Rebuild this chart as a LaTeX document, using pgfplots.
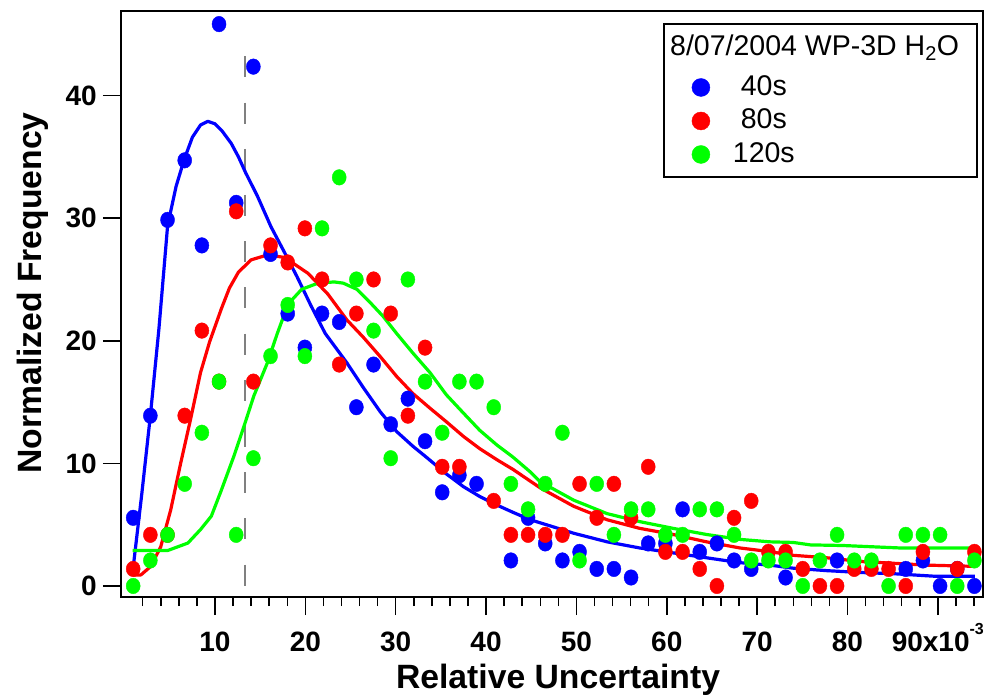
\documentclass[border=0pt]{standalone}
\usepackage{fontspec}
\setmainfont{Liberation Sans}
\usepackage{pgfplots}
\pgfplotsset{compat=1.18}
\newcommand\tickfont{\fontsize{28}{30}\selectfont\bfseries}
\newcommand\labfont{\fontsize{33.7}{36}\selectfont\bfseries}
\newcommand\legfont{\fontsize{28.5}{30}\selectfont}
\pgfplotsset{
  pts/.style={only marks, mark=*, mark size=7.8pt, mark options={xscale=0.9},
    legend image code/.code={\draw[##1, mark options={}, mark size=9pt] plot coordinates {(0pt,0pt)};}},
  fit/.style={no marks, line width=3.2pt, forget plot, line join=round},
}
\begin{document}
\begin{tikzpicture}[x=1pt,y=1pt]
\useasboundingbox (0,0) rectangle (985,694);
\begin{axis}[
  at={(121pt,97pt)}, anchor=south west,
  scale only axis, width=862pt, height=586pt,
  xmin=-0.4, xmax=95, ymin=-0.9, ymax=46.9,
  axis line style={line width=1.6pt},
  tick align=outside, tick pos=left,
  major tick length=18pt, minor tick length=9pt,
  major tick style={line width=1.5pt, black},
  minor tick style={line width=1.5pt, black},
  xtick={10,20,30,40,50,60,70,80,90},
  xticklabels={10,20,30,40,50,60,70,80,{90x10\raisebox{17pt}{\fontsize{16}{16}\selectfont\bfseries -3}}},
  minor xtick={2,4,6,8,12,14,16,18,22,24,26,28,32,34,36,38,42,44,46,48,52,54,56,58,62,64,66,68,72,74,76,78,82,84,86,88,92,94},
  ytick={0,10,20,30,40},
  yticklabels={0,10,20,30,40},
  xticklabel style={font=\tickfont, inner sep=0pt, anchor=base, yshift=-36pt},
  yticklabel style={font=\tickfont, inner sep=0pt, anchor=east, xshift=-6pt},
  xlabel={Relative Uncertainty},
  ylabel={Normalized Frequency},
  xlabel style={at={(axis description cs:0.507,-0.1553)}, anchor=base, font=\labfont, inner sep=0pt},
  ylabel style={at={(axis description cs:-0.0928,0.5188)}, anchor=base, font=\labfont, inner sep=0pt},
  legend style={draw=none, fill=none, inner sep=0pt, row sep=0pt, column sep=23pt,
    at={(axis description cs:0.6621,0.8984)}, anchor=north west, font=\legfont,
    nodes={inner sep=0pt, text height=24.45pt, text depth=9.05pt}},
  legend cell align=center,
]
% dashed marker line
\addplot[gray, line width=2pt, dash pattern=on 21pt off 25.2pt, forget plot] coordinates {(13.35,43.2) (13.35,0)};
% fitted curves
\addplot[fit, blue] coordinates {
(0.9,1.2) (1.9,7.5) (2.85,13.9) (3.8,21.0) (4.76,29.4) (5.7,32.6) (6.6,34.8) (7.5,36.6) (8.4,37.6) (9.2,37.9)
(10.0,37.7) (10.8,37.1) (11.8,36.1) (12.6,35.0) (13.4,33.7) (14.7,31.8) (16.2,29.3) (17.7,27.2) (19.1,25.2)
(20.6,22.9) (22.2,20.6) (23.6,19.2) (24.6,18.2) (26.4,16.2) (28.3,14.2) (30.1,12.6) (31.9,11.4) (33.4,10.5)
(35.5,9.2) (37.5,8.1) (39.3,7.3) (41.2,6.6) (43.0,6.0) (44.9,5.4) (47.1,4.9) (49.7,4.3) (53.4,3.6) (57.0,3.1)
(60.7,2.7) (64.4,2.3) (68.1,1.9) (71.4,1.7) (74.0,1.45) (77.7,1.25) (81.4,1.1) (85.1,1.0) (89.5,0.8) (94.1,0.8)};
\addplot[fit, red] coordinates {
(0.9,0.9) (1.8,0.9) (2.9,1.6) (4.0,3.2) (5.1,6.2) (6.2,10.0) (7.3,13.6) (8.4,17.4) (9.4,19.9) (10.7,22.6)
(11.6,24.3) (12.6,25.6) (14.0,26.6) (15.8,27.0) (17.7,26.8) (20.3,25.5) (22.5,23.8) (24.6,21.7) (26.4,20.3) (28.3,18.7)
(30.1,17.1) (31.9,15.7) (33.8,14.5) (35.6,13.4) (37.5,12.2) (39.3,11.2) (41.2,10.3) (43.0,9.5) (46.0,8.0)
(49.7,6.5) (53.4,5.4) (57.0,4.7) (60.7,4.2) (64.4,3.6) (68.1,3.1) (71.4,2.8) (74.0,2.5) (77.7,2.3) (81.4,2.0)
(85.1,1.85) (88.8,1.7) (94.1,1.6)};
\addplot[fit, green] coordinates {
(0.9,2.9) (4.8,2.9) (7.0,3.5) (8.4,4.6) (9.6,5.7) (10.7,7.8) (12.1,10.6) (13.2,13.0) (14.3,15.5) (15.8,18.2)
(16.9,20.6) (17.7,22.2) (18.6,23.4) (19.6,24.2) (21.4,24.7) (23.2,24.8) (24.2,24.7) (25.7,24.2) (27.2,23.1) (28.6,22.0)
(30.1,20.6) (31.9,19.0) (33.8,17.4) (35.6,15.6) (37.5,14.1) (39.3,12.7) (41.2,11.5) (43.0,10.5) (44.9,9.3)
(46.0,8.5) (49.7,7.0) (53.4,5.9) (57.0,5.25) (60.7,4.7) (64.4,4.2) (68.1,3.8) (71.4,3.6) (74.0,3.55)
(75.9,3.35) (79.5,3.3) (85.8,3.1) (94.1,3.1)};
% data points
\addplot[pts, blue] coordinates {
(0.95,5.56) (2.85,13.89) (4.75,29.86) (6.65,34.72) (8.55,27.78) (10.45,45.83) (12.35,31.25) (14.25,42.36)
(16.15,27.08) (18.05,22.22) (19.95,19.44) (21.85,22.22) (23.75,21.53) (25.65,14.58) (27.55,18.06)
(29.45,13.19) (31.35,15.28) (33.25,11.81) (35.15,7.64) (37.05,9.03) (38.95,8.33) (42.75,2.08) (44.65,5.56)
(46.55,3.47) (48.45,2.08) (50.35,2.78) (52.25,1.39) (54.15,1.39) (56.05,0.69) (57.95,3.47) (59.85,3.47)
(61.75,6.25) (63.65,2.78) (65.55,3.47) (67.45,2.08) (69.35,1.39) (73.15,0.69) (78.85,2.08) (86.45,1.39)
(88.35,2.08) (90.25,0) (92.15,1.39) (94.05,0)};
\addlegendentry{40s}
\addplot[pts, red] coordinates {
(0.95,1.39) (2.85,4.17) (4.75,4.17) (6.65,13.89) (8.55,20.83) (10.45,16.67) (12.35,30.56) (14.25,16.67)
(16.15,27.78) (18.05,26.39) (19.95,29.17) (21.85,25.00) (23.75,18.06) (25.65,22.22) (27.55,25.00)
(29.45,22.22) (31.35,13.89) (33.25,19.44) (35.15,9.72) (37.05,9.72) (40.85,6.94) (42.75,4.17) (44.65,4.17)
(46.55,4.17) (48.45,4.17) (50.35,8.33) (52.25,5.56) (54.15,8.33) (56.05,5.56) (57.95,9.72) (59.85,2.78)
(61.75,2.78) (63.65,1.39) (65.55,0) (67.45,5.56) (69.35,6.94) (71.25,2.78) (73.15,2.78) (75.05,1.39)
(76.95,0) (78.85,0) (80.75,1.39) (82.65,1.39) (84.55,1.39) (86.45,0) (88.35,2.78) (92.15,1.39) (94.05,2.78)};
\addlegendentry{80s}
\addplot[pts, green] coordinates {
(0.95,0) (2.85,2.08) (4.75,4.17) (6.65,8.33) (8.55,12.50) (10.45,16.67) (12.35,4.17) (14.25,10.42)
(16.15,18.75) (18.05,22.92) (19.95,18.75) (21.85,29.17) (23.75,33.33) (25.65,25.00) (27.55,20.83)
(29.45,10.42) (31.35,25.00) (33.25,16.67) (35.15,12.50) (37.05,16.67) (38.95,16.67) (40.85,14.58)
(42.75,8.33) (44.65,6.25) (46.55,8.33) (48.45,12.50) (50.35,2.08) (52.25,8.33) (54.15,4.17) (56.05,6.25)
(57.95,6.25) (59.85,4.17) (61.75,4.17) (63.65,6.25) (65.55,6.25) (67.45,4.17) (69.35,2.08) (71.25,2.08)
(73.15,2.08) (75.05,0) (76.95,2.08) (78.85,4.17) (80.75,2.08) (82.65,2.08) (84.55,0) (86.45,4.17)
(88.35,4.17) (90.25,4.17) (92.15,0) (94.05,2.08)};
\addlegendentry{120s}
\draw[line width=1.2pt] (axis description cs:0.6299,0.9778) rectangle (axis description cs:0.9930,0.7167);
\node[anchor=base west, inner sep=0pt, font=\legfont] at (axis description cs:0.6369,0.9249) {8/07/2004 WP-3D H\textsubscript{2}O};
\end{axis}
\end{tikzpicture}
\end{document}
